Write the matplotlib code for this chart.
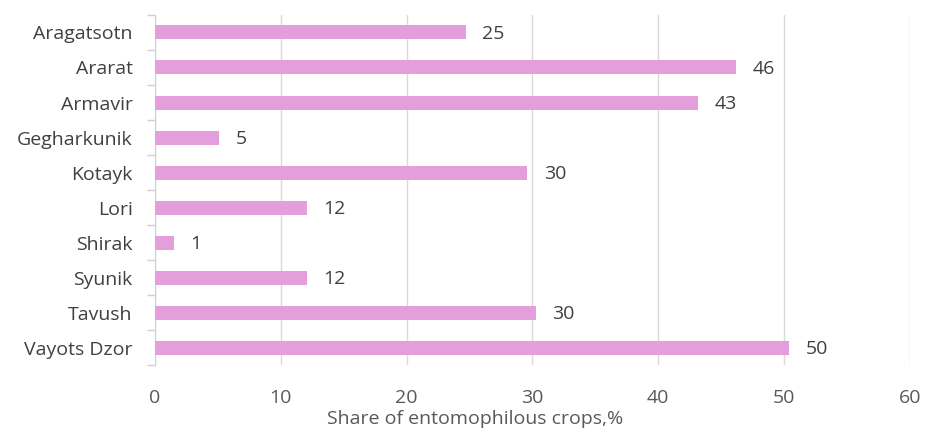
import numpy as np
import matplotlib
matplotlib.use("Agg")
import matplotlib.pyplot as plt

regions = ["Aragatsotn", "Ararat", "Armavir", "Gegharkunik", "Kotayk",
           "Lori", "Shirak", "Syunik", "Tavush", "Vayots Dzor"]
shares = [24.7, 46.2, 43.2, 5.1, 29.6, 12.1, 1.5, 12.1, 30.3, 50.4]
labels = ["25", "46", "43", "5", "30", "12", "1", "12", "30", "50"]

plt.rcParams["font.family"] = ["Open Sans", "DejaVu Sans"]
text_color = "#404040"

fig = plt.figure(figsize=(9.25, 4.28), dpi=100)
ax = fig.add_axes([0.1676, 0.147, 0.816, 0.818])

y = np.arange(len(regions))
ax.barh(y, shares, height=0.4, color="#E49EDB", zorder=3)

for yi, v, lab in zip(y, shares, labels):
    ax.text(v + 1.3, yi + 0.05, lab, va="center", ha="left", fontsize=14, color=text_color)

ax.set_xlim(0, 60)
ax.set_ylim(len(regions) - 0.5, -0.5)
ax.set_xticks(range(0, 61, 10))
ax.set_yticks(y)
ax.set_yticklabels(regions)
ax.set_yticks(np.arange(-0.5, len(regions)), minor=True)
ax.tick_params(axis="y", which="major", length=0, pad=16, labelsize=14, labelcolor=text_color)
ax.tick_params(axis="y", which="minor", length=6, color="#D0D0D0", width=1)
ax.tick_params(axis="x", length=0, pad=17, labelsize=14, labelcolor="#595959")

ax.xaxis.grid(True, color="#D9D9D9", linewidth=1, zorder=0)
for s in ["top", "right", "bottom"]:
    ax.spines[s].set_visible(False)
ax.spines["left"].set_color("#D0D0D0")

ax.set_xlabel("Share of entomophilous crops,%", fontsize=14, color="#595959")
ax.xaxis.set_label_coords(0.424, -0.128)

fig.savefig("out.png", dpi=100)
